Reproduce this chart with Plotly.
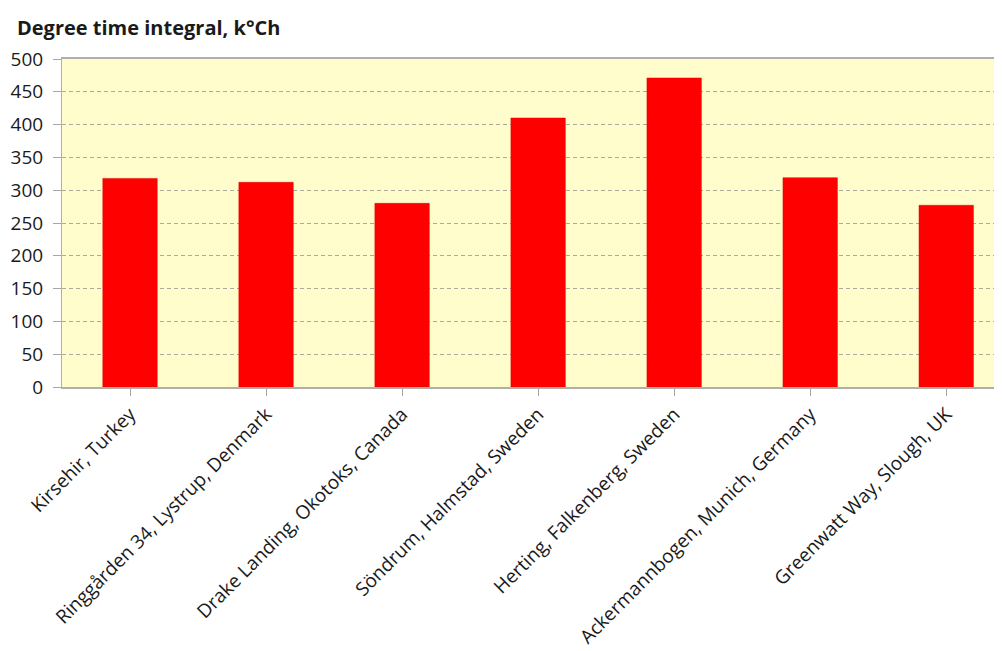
import plotly.graph_objects as go

categories = [
    "Kirsehir, Turkey",
    "Ringgården 34, Lystrup, Denmark",
    "Drake Landing, Okotoks, Canada",
    "Söndrum, Halmstad, Sweden",
    "Herting, Falkenberg, Sweden",
    "Ackermannbogen, Munich, Germany",
    "Greenwatt Way, Slough, UK",
]
values = [318, 312, 280, 410, 471, 319, 277]
y_ticks = [0, 50, 100, 150, 200, 250, 300, 350, 400, 450, 500]
title_text = "Degree time integral, k°Ch"

FONT = "Open Sans, Lato, sans-serif"

fig = go.Figure(
    go.Bar(
        x=list(range(len(categories))),
        y=values,
        width=0.40,
        marker=dict(color="#FF0000", line=dict(color="#E00000", width=0.5)),
    )
)

# page body has an 8px default margin, so the figure is offset by 8px
fig.update_layout(
    width=994,
    height=643,
    margin=dict(l=54, r=0, t=51, b=264),
    paper_bgcolor="white",
    plot_bgcolor="#FFFDCB",
    showlegend=False,
    font=dict(family=FONT, size=18, color="#1a1a1a"),
    annotations=[
        dict(
            text="<b>" + title_text + "</b>",
            xref="paper", yref="paper",
            x=0, y=1.0, xanchor="left", yanchor="middle",
            xshift=-47, yshift=32,
            showarrow=False,
            font=dict(family=FONT, size=20, color="#1a1a1a"),
        )
    ],
)

fig.update_xaxes(
    range=[-0.5, 6.41],
    tickmode="array",
    tickvals=list(range(len(categories))),
    ticktext=categories,
    tickangle=-45,
    ticks="outside",
    tickson="boundaries",
    ticklen=7,
    tickcolor="#A6A6A6",
    showline=True,
    mirror=True,
    linecolor="#B0B0A8",
    linewidth=1.5,
    showgrid=False,
    automargin=False,
    tickfont=dict(family=FONT, size=19, color="#1a1a1a"),
)

fig.update_yaxes(
    range=[0, 500],
    tickmode="array",
    tickvals=y_ticks,
    ticks="outside",
    ticklen=8,
    tickcolor="#A6A6A6",
    ticklabelstandoff=6,
    showline=True,
    linecolor="#B0B0A8",
    linewidth=1,
    showgrid=True,
    gridcolor="#ABAB9C",
    gridwidth=1,
    griddash="4px,3px",
    zeroline=False,
    automargin=False,
    tickfont=dict(family=FONT, size=19, color="#1a1a1a"),
)

fig.write_html("out.html")
